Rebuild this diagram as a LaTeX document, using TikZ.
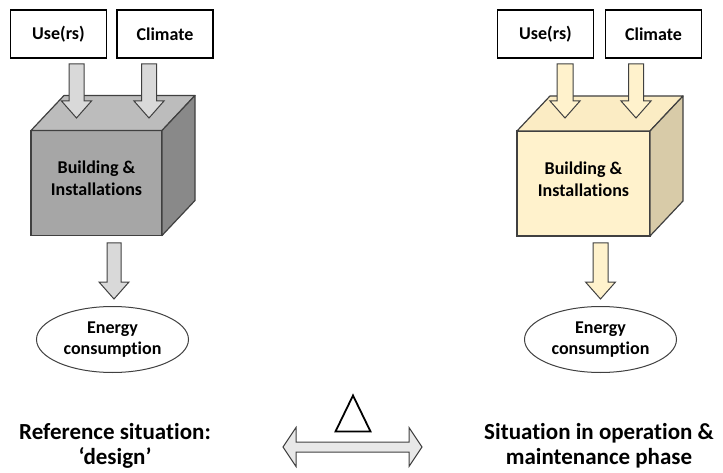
\documentclass[tikz,border=0pt]{standalone}
\usepackage{fontspec}
\setmainfont{Carlito}[Ligatures=NoCommon]
\usetikzlibrary{shapes.geometric}
\definecolor{gfront}{HTML}{A6A6A6}
\definecolor{gtop}{HTML}{BCBCBC}
\definecolor{gside}{HTML}{898989}
\definecolor{garrow}{HTML}{D9D9D9}
\definecolor{cfront}{HTML}{FFF2CC}
\definecolor{ctop}{HTML}{FBECC4}
\definecolor{cside}{HTML}{D8CBA8}
\definecolor{outl}{HTML}{404040}
\definecolor{darr}{HTML}{E8E8E8}
\newcommand\blkarrow[5]{%
  \draw[draw=outl,line width=1pt,fill=#4,line join=miter]
    ({#1-#5},#2) -- ({#1+#5},#2) -- ({#1+#5},{#3-17}) -- ({#1+15},{#3-17}) --
    (#1,#3) -- ({#1-15},{#3-17}) -- ({#1-#5},{#3-17}) -- cycle;}
\begin{document}
\begin{tikzpicture}[x=1pt,y=-1pt,
  inbox/.style={draw=black,line width=1.5pt,fill=white,minimum width=96pt,minimum height=48pt,
    inner sep=0pt,outer sep=0pt,font=\fontsize{18}{22}\selectfont\bfseries},
  cubeface/.style={draw=outl,line width=1.2pt,minimum width=#1,minimum height=105pt,inner sep=0pt,outer sep=0pt},
  cubetext/.style={align=center,font=\fontsize{18}{22}\selectfont\bfseries},
  energy/.style={ellipse,draw=outl,line width=1pt,fill=white,minimum width=152pt,minimum height=66pt,
    inner sep=0pt,align=center,font=\fontsize{18}{21}\selectfont\bfseries},
  biglabel/.style={align=center,font=\fontsize{23}{25}\selectfont\bfseries}]
\useasboundingbox (0,0) rectangle (723,473);

% ---------- left ----------
\node[inbox] (useL) at (58.5,34) {Use(rs)};
\node[inbox] (climL) at (165,34) {Climate};
\node[cubeface=131pt,fill=gfront] (cubeL) at (96.5,183) {};
\draw[draw=outl,line width=1.2pt,fill=gtop,line join=round] (cubeL.north west) -- ++(33,-35) -- ++(131,0) -- (cubeL.north east) -- cycle;
\draw[draw=outl,line width=1.2pt,fill=gside,line join=round] (cubeL.north east) -- ++(33,-35) -- ++(0,105) -- (cubeL.south east) -- cycle;
\node[cubetext] (bldL) at (96.5,178) {Building \&\\Installations};
\blkarrow{76.5}{64}{118}{garrow}{7.5}
\blkarrow{149}{64}{118}{garrow}{7.5}
\blkarrow{114}{243}{299}{garrow}{7}
\node[energy] (enL) at (112.5,339.5) {Energy\\consumption};
\node[biglabel] (refL) at (115,446) {Reference situation:\\‘design’};

% ---------- right ----------
\node[inbox] (useR) at (545.5,34) {Use(rs)};
\node[inbox] (climR) at (653.5,34) {Climate};
\node[cubeface=133pt,fill=cfront] (cubeR) at (583.5,183.5) {};
\draw[draw=outl,line width=1.2pt,fill=ctop,line join=round] (cubeR.north west) -- ++(33,-35) -- ++(133,0) -- (cubeR.north east) -- cycle;
\draw[draw=outl,line width=1.2pt,fill=cside,line join=round] (cubeR.north east) -- ++(33,-35) -- ++(0,105) -- (cubeR.south east) -- cycle;
\node[cubetext] (bldR) at (583.5,179) {Building \&\\Installations};
\blkarrow{565}{64}{118}{cfront}{8}
\blkarrow{636}{64}{118}{cfront}{7.5}
\blkarrow{600.5}{243}{299}{cfront}{7.5}
\node[energy] (enR) at (600.5,339.5) {Energy\\consumption};
\node[biglabel] (sitR) at (599,446) {Situation in operation \&\\maintenance phase};

% ---------- middle ----------
\draw[draw=outl,line width=1pt,fill=darr,line join=miter]
  (283,447) -- (296,427.5) -- (296,442) -- (409,442) -- (409,427.5) -- (422,447) --
  (409,466.5) -- (409,452) -- (296,452) -- (296,466.5) -- cycle;
\draw[black,line width=1.8pt,line join=miter] (335.5,431.5) -- (353,395.5) -- (370.5,431.5) -- cycle;
\end{tikzpicture}
\end{document}
